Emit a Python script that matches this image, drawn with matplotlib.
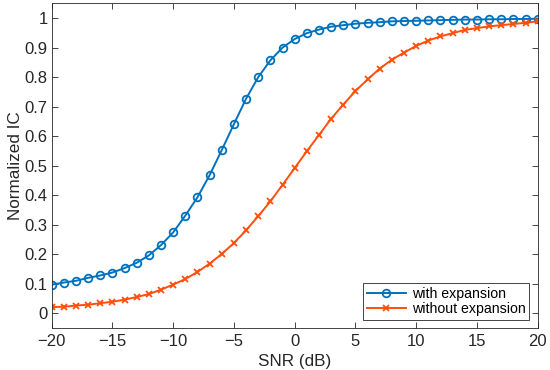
import matplotlib
matplotlib.use("Agg")
import matplotlib.pyplot as plt
import numpy as np

snr = list(range(-20, 21))
with_expansion = [0.097, 0.104, 0.110, 0.120, 0.128, 0.138, 0.153, 0.171, 0.196, 0.231,
                  0.274, 0.331, 0.393, 0.468, 0.553, 0.641, 0.727, 0.800, 0.857, 0.900,
                  0.929, 0.949, 0.961, 0.971, 0.976, 0.981, 0.984, 0.986, 0.989, 0.990,
                  0.991, 0.992, 0.993, 0.994, 0.995, 0.995, 0.996, 0.996, 0.997, 0.997, 0.998]
without_expansion = [0.021, 0.022, 0.026, 0.029, 0.034, 0.039, 0.046, 0.055, 0.065, 0.080,
                     0.097, 0.116, 0.140, 0.168, 0.201, 0.238, 0.281, 0.329, 0.379, 0.435,
                     0.492, 0.549, 0.604, 0.659, 0.707, 0.753, 0.792, 0.829, 0.859, 0.883,
                     0.906, 0.924, 0.938, 0.949, 0.960, 0.966, 0.972, 0.976, 0.980, 0.984, 0.989]
series_labels = ["with expansion", "without expansion"]
xticks = [-20, -15, -10, -5, 0, 5, 10, 15, 20]
yticks = [0, 0.1, 0.2, 0.3, 0.4, 0.5, 0.6, 0.7, 0.8, 0.9, 1]
ytick_labels = ["0", "0.1", "0.2", "0.3", "0.4", "0.5", "0.6", "0.7", "0.8", "0.9", "1"]

plt.rcParams['font.family'] = ['Liberation Sans', 'DejaVu Sans']

fig = plt.figure(figsize=(5.5, 3.7), dpi=100)
ax = fig.add_axes([0.094, 0.1135, 0.8836, 0.8775])

blue = "#0072BD"
orange = "#FF4F0A"
ax.plot(snr, with_expansion, color=blue, marker='o', markersize=5.5, markerfacecolor='none',
        markeredgewidth=1.3, linewidth=1.4, label=series_labels[0])
ax.plot(snr, without_expansion, color=orange, marker='x', markersize=4.5,
        markeredgewidth=1.3, linewidth=1.4, label=series_labels[1])

ax.set_xlim(-20, 20)
ax.set_ylim(-0.05, 1.05)
ax.set_xticks(xticks)
ax.set_xticklabels([str(t).replace('-', '\u2212') for t in xticks])
ax.set_yticks(yticks)
ax.set_yticklabels(ytick_labels)
ax.tick_params(direction='in', top=True, right=True, length=4, width=0.6,
               colors='#262626', labelsize=12, labelcolor='#262626', pad=3)
ax.tick_params(axis='x', pad=4)
for s in ax.spines.values():
    s.set_color('#262626')
    s.set_linewidth(0.6)
ax.set_xlabel("SNR (dB)", fontsize=12.3, color='#262626', labelpad=4)
ax.set_ylabel("Normalized IC", fontsize=12.3, color='#262626', labelpad=1)

leg = ax.legend(loc='lower right', fontsize=10.2, frameon=True, fancybox=False,
                edgecolor='#262626', framealpha=1, handlelength=2.8, borderpad=0.25,
                labelspacing=0.1, handletextpad=0.4, borderaxespad=0.6)
leg.get_frame().set_linewidth(0.6)

fig.savefig("out.png", dpi=100)
